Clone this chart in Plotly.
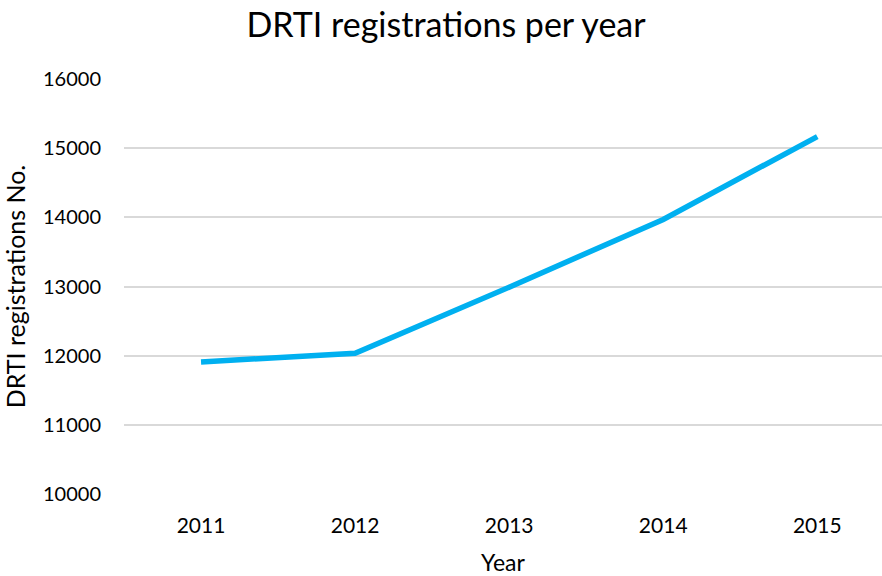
import plotly.graph_objects as go

years = ["2011", "2012", "2013", "2014", "2015"]
registrations = [11910, 12035, 12990, 13970, 15168]
y_ticks = [10000, 11000, 12000, 13000, 14000, 15000, 16000]

FONT = "Lato"

fig = go.Figure()
fig.add_trace(go.Scatter(
    x=years, y=registrations, mode="lines",
    line=dict(color="#00B0F0", width=5.5, shape="linear"),
    hoverinfo="x+y",
))

fig.update_layout(
    width=882, height=576,
    margin=dict(l=124, r=0, t=79, b=82),
    paper_bgcolor="white", plot_bgcolor="white",
    showlegend=False,
    title=dict(text="DRTI registrations per year", x=0.5057, xanchor="center",
               y=0.957, yanchor="middle",
               font=dict(family=FONT, size=34, color="#000000")),
    font=dict(family=FONT, color="#000000"),
)

fig.update_xaxes(
    type="category", range=[-0.5, 4.42],
    showgrid=False, zeroline=False, showline=False,
    ticks="", tickfont=dict(family=FONT, size=21, color="#000000"),
    ticklabelstandoff=17,
    title=dict(text="Year", font=dict(family=FONT, size=23, color="#000000"), standoff=20),
)
fig.update_yaxes(
    range=[10000, 16000], tickvals=y_ticks, ticktext=[str(v) for v in y_ticks],
    showgrid=True, gridcolor="#D9D9D9", gridwidth=1.5,
    zeroline=False, showline=False, ticks="",
    tickfont=dict(family=FONT, size=20, color="#000000"),
    ticklabelstandoff=22,
    title=dict(text="DRTI registrations No.", font=dict(family=FONT, size=25, color="#000000"), standoff=21),
)

fig.write_html(
    "out.html",
    config={"displayModeBar": False},
    post_script="document.body.style.margin='0';document.body.style.overflow='hidden';",
)
